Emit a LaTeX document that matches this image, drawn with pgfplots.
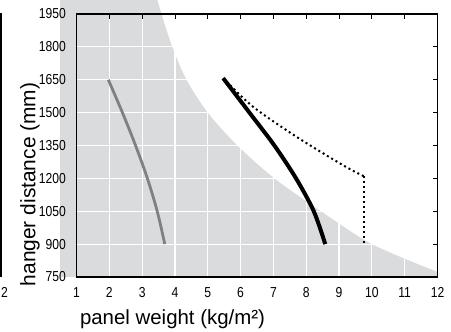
\documentclass[border=0pt]{standalone}
\usepackage{fontspec}
\setmainfont{Liberation Sans}
\newfontfamily\ticfont[FakeStretch=0.84]{Liberation Sans}
\usepackage{pgfplots}
\pgfplotsset{compat=1.18}
\definecolor{fillgray}{RGB}{218,219,221}
\definecolor{curvegray}{RGB}{128,128,128}
\begin{document}
\begin{tikzpicture}
\begin{axis}[
  set layers=standard,
  at={(76.5bp,54bp)}, anchor=south west,
  scale only axis, width=361bp, height=263bp,
  xmin=1, xmax=12, ymin=750, ymax=1950,
  xtick={1,...,12}, ytick={750,900,...,1950},
  grid=major, major grid style={white, line width=1.2bp},
  axis line style={black, line width=1.4bp},
  xtick pos=right, xticklabel pos=left, ytick pos=right, yticklabel pos=left,
  tick align=inside, major tick length=4.5bp, tick style={black, line width=0.8bp},
  /pgf/number format/assume math mode=true,
  /pgf/number format/1000 sep={},
  ticklabel style={font=\ticfont\fontsize{14.5}{14.5}\selectfont, inner sep=0pt},
  xticklabel style={anchor=north, yshift=-10bp},
  yticklabel style={anchor=east, xshift=-10.5bp},
  xlabel={panel weight (kg/m²)},
  ylabel={hanger distance (mm)},
  xlabel style={font=\fontsize{20.5}{20.5}\selectfont, at={(axis description cs:0.0,-0.179)}, anchor=base west},
  ylabel style={font=\fontsize{21}{21}\selectfont, at={(axis description cs:-0.1136,0.352)}, anchor=base},
]
\addplot[on layer=axis background, draw=none, fill=fillgray] coordinates {(0.5,2200)(3.35,2200)} \closedcycle;
\addplot[on layer=axis background, draw=none, fill=fillgray, smooth] coordinates {(3.3,2100)(3.59,1950)(3.92,1800)(4.35,1650)(5.0,1500)(5.9,1350)(7.03,1200)(8.45,1050)(10.0,900)(12,773)} \closedcycle;
\addplot[curvegray, line width=2.8bp, smooth] coordinates {(1.97,1650)(2.40,1500)(2.80,1350)(3.16,1200)(3.46,1050)(3.69,900)};
\addplot[black, line width=4bp, smooth] coordinates {(5.47,1657)(6.27,1500)(7.03,1350)(7.69,1200)(8.23,1050)(8.58,900)};
\addplot[black, line width=2bp, dash pattern=on 2bp off 3bp, smooth] coordinates {(5.47,1657)(6.37,1528)(7.69,1391)(9.11,1261)(9.75,1210)};
\addplot[black, line width=2bp, dash pattern=on 2bp off 3bp] coordinates {(9.75,1210)(9.75,900)};
\end{axis}
\draw[line width=1.5bp] (1bp,318bp) -- (1bp,54bp);
\node[font=\ticfont\fontsize{14.5}{14.5}\selectfont, anchor=north, inner sep=0pt] at (4.5bp,44bp) {2};
\path (0,0) rectangle (451bp,331bp);
\end{tikzpicture}
\end{document}
